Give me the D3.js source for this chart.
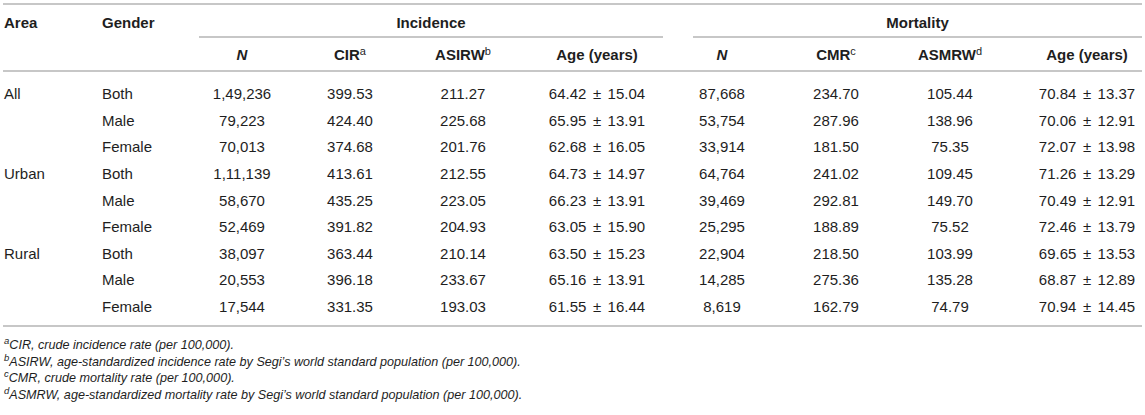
<!DOCTYPE html>
<html><head><meta charset="utf-8">
<script src="https://cdn.jsdelivr.net/npm/d3@7"></script>
<style>
html,body{margin:0;padding:0;background:#fff;}
svg{display:block;font-family:"Liberation Sans",Arial,Helvetica,sans-serif;}
</style></head>
<body><svg id="t" width="1145" height="415"></svg>
<script>
const areas = ["All","Urban","Rural"];
const genders = ["Both","Male","Female"];
const incN = [149236,79223,70013,111139,58670,52469,38097,20553,17544];
const incCIR = [399.53,424.40,374.68,413.61,435.25,391.82,363.44,396.18,331.35];
const incASIRW = [211.27,225.68,201.76,212.55,223.05,204.93,210.14,233.67,193.03];
const incAgeMean = [64.42,65.95,62.68,64.73,66.23,63.05,63.50,65.16,61.55];
const incAgeSD = [15.04,13.91,16.05,14.97,13.91,15.90,15.23,13.91,16.44];
const morN = [87668,53754,33914,64764,39469,25295,22904,14285,8619];
const morCMR = [234.70,287.96,181.50,241.02,292.81,188.89,218.50,275.36,162.79];
const morASMRW = [105.44,138.96,75.35,109.45,149.70,75.52,103.99,135.28,74.79];
const morAgeMean = [70.84,70.06,72.07,71.26,70.49,72.46,69.65,68.87,70.94];
const morAgeSD = [13.37,12.91,13.98,13.29,12.91,13.79,13.53,12.89,14.45];
const groupHeaders = ["Incidence","Mortality"];
const colHeaders = [["N",""],["CIR","a"],["ASIRW","b"],["Age (years)",""],["N",""],["CMR","c"],["ASMRW","d"],["Age (years)",""]];
const footnotes = [
  ["a","CIR, crude incidence rate (per 100,000)."],
  ["b","ASIRW, age-standardized incidence rate by Segi\u2019s world standard population (per 100,000)."],
  ["c","CMR, crude mortality rate (per 100,000)."],
  ["d","ASMRW, age-standardized mortality rate by Segi\u2019s world standard population (per 100,000)."]
];

function indian(n){
  const s = String(n);
  if (s.length <= 3) return s;
  const last3 = s.slice(-3);
  let rest = s.slice(0,-3);
  const parts = [];
  while (rest.length > 2){ parts.unshift(rest.slice(-2)); rest = rest.slice(0,-2); }
  if (rest.length) parts.unshift(rest);
  return parts.join(",") + "," + last3;
}
const f2 = d3.format(".2f");

const svg = d3.select("#t");
const W = 1145;
const ink = "#1e1e1e", rule = "#b4b4b4";

// layout
const colX = [242, 350, 463, 597, 722, 836, 950, 1087];
const areaX = 4, genderX = 102;
const groupSpans = [[199,663],[693,1142]];
const nRows = incN.length;
const y = d3.scalePoint().domain(d3.range(nRows)).range([99, 312]);

// rules
const lines = [
  [3, W-3, 4], [3, W-3, 71], [3, W-3, 326],
  [groupSpans[0][0], groupSpans[0][1], 37], [groupSpans[1][0], groupSpans[1][1], 37]
];
svg.selectAll("line.r").data(lines).join("line").attr("class","r")
  .attr("x1",d=>d[0]).attr("x2",d=>d[1]).attr("y1",d=>d[2]).attr("y2",d=>d[2])
  .attr("stroke",rule).attr("stroke-width",1.6);

// header
const hdr = svg.append("g").attr("font-weight","bold").attr("font-size",15).attr("fill",ink);
hdr.append("text").attr("x",areaX).attr("y",28).text("Area");
hdr.append("text").attr("x",genderX).attr("y",28).text("Gender");
hdr.selectAll("text.g").data(groupHeaders).join("text").attr("class","g")
  .attr("x",(d,i)=>(groupSpans[i][0]+groupSpans[i][1])/2).attr("y",28)
  .attr("text-anchor","middle").text(d=>d);
const ch = hdr.selectAll("text.c").data(colHeaders).join("text").attr("class","c")
  .attr("x",(d,i)=>colX[i]).attr("y",60).attr("text-anchor","middle")
  .attr("font-style",d=>d[0]==="N"?"italic":null);
ch.append("tspan").text(d=>d[0]);
ch.filter(d=>d[1]).append("tspan").attr("font-size",11).attr("font-weight","normal").attr("dy",-5.5).text(d=>d[1]);

// body
const body = svg.append("g").attr("font-size",15).attr("fill",ink);
body.selectAll("text.a").data(areas).join("text").attr("class","a")
  .attr("x",areaX).attr("y",(d,i)=>y(i*3)).text(d=>d);
const rowIdx = d3.range(nRows);
body.selectAll("text.gd").data(rowIdx).join("text").attr("class","gd")
  .attr("x",genderX).attr("y",i=>y(i)).text(i=>genders[i%3]);
const simpleCols = [
  [0, i=>indian(incN[i])], [1, i=>f2(incCIR[i])], [2, i=>f2(incASIRW[i])],
  [4, i=>indian(morN[i])], [5, i=>f2(morCMR[i])], [6, i=>f2(morASMRW[i])]
];
simpleCols.forEach(([c,fn])=>{
  body.selectAll("text.c"+c).data(rowIdx).join("text").attr("class","c"+c)
    .attr("x",colX[c]).attr("y",i=>y(i)).attr("text-anchor","middle").text(fn);
});
const ageCols = [[3, incAgeMean, incAgeSD],[7, morAgeMean, morAgeSD]];
const gap = 6.5;
ageCols.forEach(([c,mean,sd])=>{
  const t = body.selectAll("text.c"+c).data(rowIdx).join("text").attr("class","c"+c)
    .attr("x",colX[c]).attr("y",i=>y(i)).attr("text-anchor","middle");
  t.append("tspan").text(i=>f2(mean[i]));
  t.append("tspan").attr("dx",gap).text("\u00b1");
  t.append("tspan").attr("dx",gap).text(i=>f2(sd[i]));
});

// footnotes
const fy = d3.scalePoint().domain(d3.range(footnotes.length)).range([349, 399]);
const fn = svg.append("g").attr("font-size",12.6).attr("font-style","italic").attr("fill",ink)
  .selectAll("text").data(footnotes).join("text").attr("x",4).attr("y",(d,i)=>fy(i));
fn.append("tspan").attr("font-size",9.5).attr("dy",-5).text(d=>d[0]);
fn.append("tspan").attr("dy",5).text(d=>d[1]);
</script></body></html>
